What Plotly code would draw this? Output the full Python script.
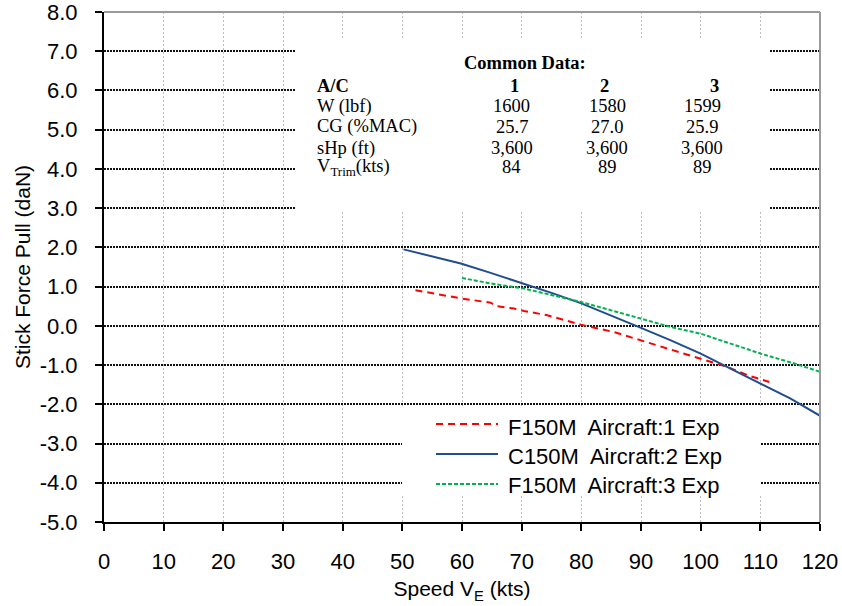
import plotly.graph_objects as go

# ---- stick force vs. equivalent airspeed, three test aircraft ----
speed_ac1 = [52.2, 59.8, 64.8, 65.9, 68.7, 70.4, 74.3, 77.7, 79.9, 85.5, 90.0, 94.4, 96.7, 100.0, 104.5, 107.9, 111.5]
force_ac1 = [0.91, 0.70, 0.59, 0.50, 0.44, 0.38, 0.27, 0.13, 0.03, -0.16, -0.37, -0.58, -0.68, -0.83, -1.05, -1.26, -1.43]

speed_ac2 = [50.2, 55.0, 59.8, 64.8, 70.4, 75.0, 79.9, 85.0, 90.0, 95.0, 100.0, 105.0, 110.1, 115.0, 120.2]
force_ac2 = [1.95, 1.77, 1.59, 1.35, 1.08, 0.84, 0.58, 0.27, -0.05, -0.37, -0.71, -1.09, -1.47, -1.85, -2.31]

speed_ac3 = [60.0, 64.8, 70.4, 74.9, 79.9, 84.9, 90.0, 95.0, 100.0, 105.0, 110.1, 115.7, 120.2]
force_ac3 = [1.22, 1.08, 0.95, 0.78, 0.61, 0.40, 0.19, -0.03, -0.20, -0.45, -0.71, -0.96, -1.18]

series_names = ["F150M  Aircraft:1 Exp", "C150M  Aircraft:2 Exp", "F150M  Aircraft:3 Exp"]
series_colors = ["#ff0000", "#1f4e8e", "#00b24f"]
series_dash = ["7px,5px", "solid", "4px,2px"]

# ---- common data table ----
table_title = "Common Data:"
table_header = ["A/C", "1", "2", "3"]
table_rows = [
    ["W (lbf)", "1600", "1580", "1599"],
    ["CG (%MAC)", "25.7", "27.0", "25.9"],
    ["sHp (ft)", "3,600", "3,600", "3,600"],
    ["V<sub>Trim</sub>(kts)", "84", "89", "89"],
]

x_ticks = list(range(0, 121, 10))
y_ticks = list(range(-5, 9, 1))
y_tick_labels = ["-5.0", "-4.0", "-3.0", "-2.0", "-1.0", "0.0", "1.0",
                 "2.0", "3.0", "4.0", "5.0", "6.0", "7.0", "8.0"]

# ---- page geometry (pixels) ----
W, H = 842, 606
ML, MR, MT, MB = 104, 22, 12, 84
PW, PH = W - ML - MR, H - MT - MB


def fx(p):
    return (p - ML) / PW


def fy(p):
    return (H - MB - p) / PH


SANS = "Liberation Sans"
SERIF = "Liberation Serif"

fig = go.Figure()
for xs, ys, name, col, dash in zip(
    [speed_ac1, speed_ac2, speed_ac3],
    [force_ac1, force_ac2, force_ac3],
    series_names, series_colors, series_dash,
):
    fig.add_trace(go.Scatter(
        x=xs, y=ys, mode="lines", name=name, showlegend=False,
        line=dict(color=col, width=2, dash=dash),
    ))

shapes = []
annotations = []

# white panels behind the table and the key (no curve passes through them)
shapes.append(dict(type="rect", xref="paper", yref="paper", layer="above",
                   x0=fx(296), x1=fx(770), y0=fy(211), y1=fy(40),
                   fillcolor="white", line=dict(width=0)))
shapes.append(dict(type="rect", xref="paper", yref="paper", layer="above",
                   x0=fx(402), x1=fx(761), y0=fy(495), y1=fy(406),
                   fillcolor="white", line=dict(width=0)))

# grey frame on top and right
shapes.append(dict(type="line", xref="paper", yref="paper", x0=0, x1=1, y0=1, y1=1,
                   line=dict(color="#9a9a9a", width=2)))
shapes.append(dict(type="line", xref="paper", yref="paper", x0=1, x1=1, y0=0, y1=1,
                   line=dict(color="#9a9a9a", width=2)))

# key
key_line_y = [424, 454, 484]
key_text_y = [427, 456, 485]
for name, col, dash, ly, ty in zip(series_names, series_colors, series_dash, key_line_y, key_text_y):
    shapes.append(dict(type="line", xref="paper", yref="paper", layer="above",
                       x0=fx(436), x1=fx(498), y0=fy(ly), y1=fy(ly),
                       line=dict(color=col, width=2, dash=dash)))
    annotations.append(dict(text=name, xref="paper", yref="paper", x=fx(506), y=fy(ty),
                            xanchor="left", yanchor="middle", showarrow=False,
                            font=dict(family=SANS, size=22, color="black")))

# table text
tfont = dict(family=SERIF, size=18.5, color="black")
annotations.append(dict(text="<b>" + table_title + "</b>", xref="paper", yref="paper",
                        x=fx(525), y=fy(63), xanchor="center", yanchor="middle",
                        showarrow=False, font=tfont))
label_x = 315
header_x = [514, 604, 714]
value_x = [512, 607, 702]
row_y = [106, 127, 148, 167]
annotations.append(dict(text="<b>" + table_header[0] + "</b>", xref="paper", yref="paper",
                        x=fx(label_x), y=fy(86), xanchor="left", yanchor="middle",
                        showarrow=False, font=tfont))
for hx, h in zip(header_x, table_header[1:]):
    annotations.append(dict(text="<b>" + h + "</b>", xref="paper", yref="paper",
                            x=fx(hx), y=fy(86), xanchor="center", yanchor="middle",
                            showarrow=False, font=tfont))
for ry, row in zip(row_y, table_rows):
    annotations.append(dict(text=row[0], xref="paper", yref="paper",
                            x=fx(label_x), y=fy(ry), xanchor="left", yanchor="middle",
                            showarrow=False, font=tfont))
    for vx, v in zip(value_x, row[1:]):
        annotations.append(dict(text=v, xref="paper", yref="paper",
                                x=fx(vx), y=fy(ry), xanchor="center", yanchor="middle",
                                showarrow=False, font=tfont))

fig.update_layout(
    width=W, height=H,
    margin=dict(l=ML, r=MR, t=MT, b=MB, autoexpand=False),
    paper_bgcolor="white", plot_bgcolor="white",
    showlegend=False,
    shapes=shapes, annotations=annotations,
    font=dict(family=SANS, size=22, color="black"),
    xaxis=dict(
        range=[0, 120], tickmode="array", tickvals=x_ticks,
        ticks="outside", ticklen=7, tickwidth=2, tickcolor="black",
        showline=True, linecolor="black", linewidth=2,
        showgrid=True, gridcolor="#bdbdbd", gridwidth=1, griddash="2px,2px",
        zeroline=False, ticklabelstandoff=12, ticklabeloverflow="allow",
        tickfont=dict(family=SANS, size=22, color="black"),
        title=dict(text="Speed V<sub>E</sub> (kts)", standoff=8,
                   font=dict(family=SANS, size=21, color="black")),
    ),
    yaxis=dict(
        range=[-5, 8], tickmode="array", tickvals=y_ticks, ticktext=y_tick_labels,
        ticks="outside", ticklen=7, tickwidth=2, tickcolor="black",
        showline=True, linecolor="black", linewidth=2,
        showgrid=True, gridcolor="#111111", gridwidth=1.5, griddash="2px,1px",
        zeroline=False, ticklabelstandoff=13, ticklabeloverflow="allow",
        tickfont=dict(family=SANS, size=22, color="black"),
        title=dict(text="Stick Force Pull (daN)", standoff=3,
                   font=dict(family=SANS, size=21, color="black")),
    ),
)

fig.write_html("out.html")
